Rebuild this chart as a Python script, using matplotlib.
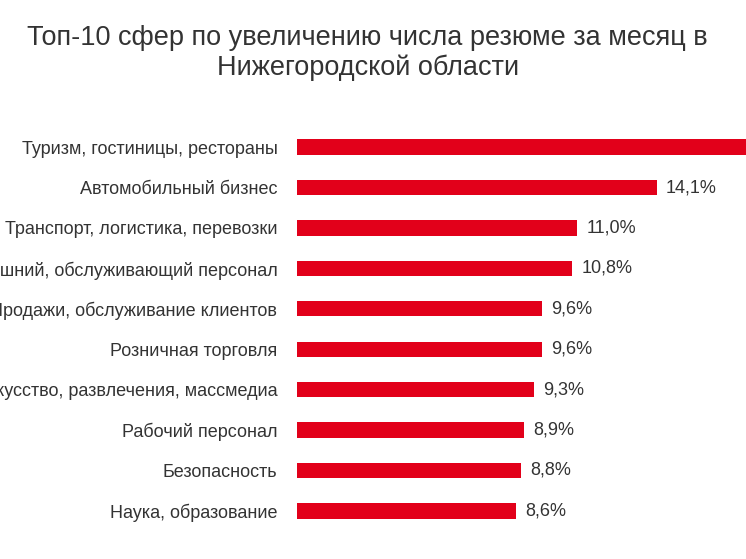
import matplotlib
matplotlib.use("Agg")
import matplotlib.pyplot as plt

plt.rcParams["font.family"] = "Liberation Sans"

categories = [
    "Туризм, гостиницы, рестораны",
    "Автомобильный бизнес",
    "Транспорт, логистика, перевозки",
    "Домашний, обслуживающий персонал",
    "Продажи, обслуживание клиентов",
    "Розничная торговля",
    "Искусство, развлечения, массмедиа",
    "Рабочий персонал",
    "Безопасность",
    "Наука, образование",
]
values = [18.5, 14.1, 11.0, 10.8, 9.6, 9.6, 9.3, 8.9, 8.8, 8.6]
value_labels = ["18,5%", "14,1%", "11,0%", "10,8%", "9,6%", "9,6%", "9,3%", "8,9%", "8,8%", "8,6%"]

BAR_COLOR = "#e2001a"
TEXT_COLOR = "#333333"

fig = plt.figure(figsize=(7.46, 5.59), dpi=100)
ax = fig.add_axes([0.398, 0.05, 0.602, 0.723])

y = list(range(len(categories)))
ax.barh(y, values, height=0.38, color=BAR_COLOR)
ax.set_ylim(len(categories) - 0.5, -0.5)
ax.set_xlim(0, 449 / 25.5)

for yi, v, lab in zip(y, values, value_labels):
    ax.text(v + 0.35, yi, lab, va="center", ha="left", fontsize=13, color=TEXT_COLOR)

ax.set_yticks(y)
ax.set_yticklabels(categories, fontsize=13, color=TEXT_COLOR)
ax.tick_params(axis="y", length=0, pad=14)
ax.set_xticks([])
for s in ax.spines.values():
    s.set_visible(False)

fig.text(0.493, 0.905, "Топ-10 сфер по увеличению числа резюме за месяц в\nНижегородской области",
         ha="center", va="center", fontsize=19.5, color=TEXT_COLOR, linespacing=1.2)

fig.savefig("out.png", dpi=100)
